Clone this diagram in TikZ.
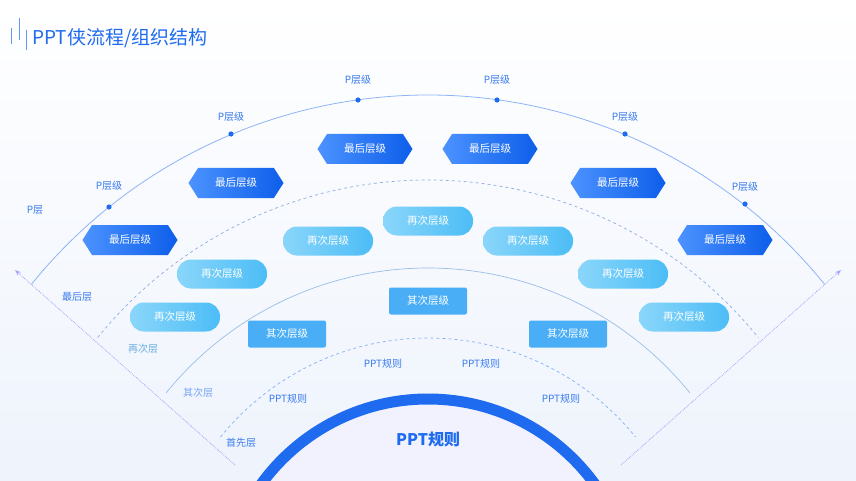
\documentclass[tikz,border=0pt]{standalone}
\usepackage{fontspec}
\setmainfont{Noto Sans CJK SC}
\usetikzlibrary{shapes.symbols,arrows.meta}
\definecolor{tblue}{HTML}{1E6BF0}
\definecolor{lblue}{HTML}{3A7BEF}
\definecolor{hexL}{HTML}{4C93FF}
\definecolor{hexR}{HTML}{0D5EEA}
\definecolor{pillL}{HTML}{8AD6FA}
\definecolor{pillR}{HTML}{4CBDF6}
\definecolor{recC}{HTML}{4AAEF6}
\definecolor{bgA}{HTML}{EEF3FC}
\begin{document}
\begin{tikzpicture}[x=1pt,y=-1pt,
  hexbox/.style={shape=signal,signal to=east and west,signal pointer angle=115,minimum width=95pt,minimum height=30pt,inner sep=0pt,left color=hexL,right color=hexR,text=white,font=\fontsize{10.5}{12}\selectfont},
  pillbox/.style={rounded corners=14pt,minimum width=90pt,minimum height=29pt,inner sep=0pt,left color=pillL,right color=pillR,text=white,font=\fontsize{10.5}{12}\selectfont},
  recbox/.style={rounded corners=2pt,minimum width=78pt,minimum height=27pt,inner sep=0pt,fill=recC,text=white,font=\fontsize{10.5}{12}\selectfont},
  lab/.style={text=lblue,font=\fontsize{10}{12}\selectfont},
  side/.style={font=\fontsize{10}{12}\selectfont}]
\useasboundingbox (0,0) rectangle (856,481);
\shade[top color=white,bottom color=bgA] (0,0) rectangle (856,481);
\begin{scope}
\clip (0,0) rectangle (856,481);
\draw[tblue!50,line width=0.8pt] ([shift={(-141:510)}]428,605) arc[start angle=-141,end angle=-39,radius=510];
\draw[cyan!50!blue!45,dashed,line width=0.7pt] ([shift={(-141:425)}]428,605) arc[start angle=-141,end angle=-39,radius=425];
\draw[cyan!60!blue!40,line width=0.7pt] ([shift={(-141:337)}]428,605) arc[start angle=-141,end angle=-39,radius=337];
\draw[tblue!55,dashed,line width=0.7pt] ([shift={(-141:267)}]428,605) arc[start angle=-141,end angle=-39,radius=267];
\fill[blue!5] (428,605) circle[radius=212];
\draw[tblue,line width=11pt] (428,605) circle[radius=206];
\end{scope}
\coordinate (lt) at (15,270); \coordinate (lb) at (235,465);
\coordinate (rt) at (841,270); \coordinate (rb) at (621,465);
\draw[blue!35,densely dotted,line width=0.8pt,-{Stealth[length=6pt]}] (lb) -- (lt);
\draw[blue!35,densely dotted,line width=0.8pt,-{Stealth[length=6pt]}] (rb) -- (rt);
\foreach \xx/\yy/\ye in {11/28/44,19/18/40,26/30/50} \draw[tblue!70,line width=1pt] (\xx,\yy) -- (\xx,\ye);
\node[anchor=west,text=tblue,font=\fontsize{19}{22}\selectfont,inner sep=0pt] (title) at (32,38) {PPT侠流程/组织结构};
\foreach \n/\xx/\yy/\ly in {d1/109/207/186,d2/231/134/117,d3/358/100/80,d4/497/100/80,d5/625/134/117,d6/745/204/187}{
  \fill[tblue] (\xx,\yy) circle[radius=2.6pt];
  \node[lab] (\n) at (\xx,\ly) {P层级};}
\node[side,text=lblue] (s1) at (35,210) {P层};
\node[side,text=lblue] (s2) at (77,297) {最后层};
\node[side,text=cyan!70!blue!60] (s3) at (143,349) {再次层};
\node[side,text=tblue!60] (s4) at (198,393) {其次层};
\node[side,text=lblue] (s5) at (241,443) {首先层};
\foreach \n/\xx/\yy in {h1/130/240,h2/236/183,h3/365/149,h4/490/149,h5/618/183,h6/725/240}
  \node[hexbox] (\n) at (\xx,\yy) {最后层级};
\foreach \n/\xx/\yy in {p1/175/317,p2/222/274,p3/328/241,p4/428/221,p5/528/241,p6/623/274,p7/684/317}
  \node[pillbox] (\n) at (\xx,\yy) {再次层级};
\foreach \n/\xx/\yy in {r1/287/334,r2/428/301,r3/568/334}
  \node[recbox] (\n) at (\xx,\yy) {其次层级};
\foreach \n/\xx/\yy in {q1/383/364,q2/481/364,q3/288/399,q4/561/399}
  \node[lab] (\n) at (\xx,\yy) {PPT规则};
\node[text=tblue,font=\fontsize{16}{18}\selectfont\bfseries] (core) at (428,440) {PPT规则};
\end{tikzpicture}
\end{document}
